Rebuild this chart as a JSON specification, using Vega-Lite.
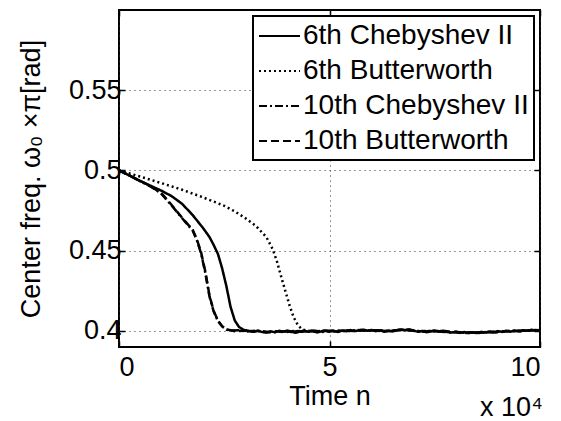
{
  "$schema": "https://vega.github.io/schema/vega-lite/v6.json",
  "width": 421,
  "height": 337,
  "autosize": "none",
  "padding": {"left": 119, "top": 10, "right": 21, "bottom": 74},
  "background": "white",
  "title": {"text": "x 10⁴", "orient": "bottom", "anchor": "end", "offset": -14, "font": "Liberation Sans", "fontSize": 27, "fontWeight": "normal", "color": "black"},
  "config": {
    "font": "Liberation Sans",
    "view": {"stroke": "black", "strokeWidth": 2},
    "axis": {"labelFont": "Liberation Sans", "titleFont": "Liberation Sans", "labelFontSize": 27, "titleFontSize": 27, "titleFontWeight": "normal", "labelColor": "black", "titleColor": "black", "domain": false, "tickColor": "black", "tickWidth": 1.5, "tickSize": -6, "grid": true, "gridColor": "#333333", "gridDash": [1, 4], "gridWidth": 1, "gridOpacity": 1},
    "legend": {"strokeWidth": 2}
  },
  "datasets": {
    "curves": [
      {"filter": "6th Chebyshev II", "n": 0.0, "w": 0.5000},
      {"filter": "6th Chebyshev II", "n": 0.25, "w": 0.4968},
      {"filter": "6th Chebyshev II", "n": 0.5, "w": 0.4935},
      {"filter": "6th Chebyshev II", "n": 0.75, "w": 0.4905},
      {"filter": "6th Chebyshev II", "n": 1.0, "w": 0.4875},
      {"filter": "6th Chebyshev II", "n": 1.25, "w": 0.4840},
      {"filter": "6th Chebyshev II", "n": 1.5, "w": 0.4792},
      {"filter": "6th Chebyshev II", "n": 1.75, "w": 0.4722},
      {"filter": "6th Chebyshev II", "n": 2.0, "w": 0.4640},
      {"filter": "6th Chebyshev II", "n": 2.15, "w": 0.4585},
      {"filter": "6th Chebyshev II", "n": 2.25, "w": 0.4535},
      {"filter": "6th Chebyshev II", "n": 2.35, "w": 0.4480},
      {"filter": "6th Chebyshev II", "n": 2.45, "w": 0.4390},
      {"filter": "6th Chebyshev II", "n": 2.55, "w": 0.4280},
      {"filter": "6th Chebyshev II", "n": 2.65, "w": 0.4150},
      {"filter": "6th Chebyshev II", "n": 2.75, "w": 0.4065},
      {"filter": "6th Chebyshev II", "n": 2.85, "w": 0.4025},
      {"filter": "6th Chebyshev II", "n": 2.95, "w": 0.4008},
      {"filter": "6th Chebyshev II", "n": 3.05, "w": 0.4002},
      {"filter": "6th Chebyshev II", "n": 3.1, "w": 0.4000},
      {"filter": "6th Chebyshev II", "n": 3.2, "w": 0.3995},
      {"filter": "6th Chebyshev II", "n": 3.3, "w": 0.4002},
      {"filter": "6th Chebyshev II", "n": 3.4, "w": 0.3993},
      {"filter": "6th Chebyshev II", "n": 3.5, "w": 0.3990},
      {"filter": "6th Chebyshev II", "n": 3.6, "w": 0.3998},
      {"filter": "6th Chebyshev II", "n": 3.7, "w": 0.3992},
      {"filter": "6th Chebyshev II", "n": 3.8, "w": 0.4001},
      {"filter": "6th Chebyshev II", "n": 3.9, "w": 0.3996},
      {"filter": "6th Chebyshev II", "n": 4.0, "w": 0.4003},
      {"filter": "6th Chebyshev II", "n": 4.1, "w": 0.3994},
      {"filter": "6th Chebyshev II", "n": 4.2, "w": 0.3989},
      {"filter": "6th Chebyshev II", "n": 4.3, "w": 0.3997},
      {"filter": "6th Chebyshev II", "n": 4.4, "w": 0.4002},
      {"filter": "6th Chebyshev II", "n": 4.5, "w": 0.3995},
      {"filter": "6th Chebyshev II", "n": 4.6, "w": 0.3999},
      {"filter": "6th Chebyshev II", "n": 4.7, "w": 0.3991},
      {"filter": "6th Chebyshev II", "n": 4.8, "w": 0.3997},
      {"filter": "6th Chebyshev II", "n": 4.9, "w": 0.4003},
      {"filter": "6th Chebyshev II", "n": 5.0, "w": 0.3996},
      {"filter": "6th Chebyshev II", "n": 5.1, "w": 0.4000},
      {"filter": "6th Chebyshev II", "n": 5.2, "w": 0.3994},
      {"filter": "6th Chebyshev II", "n": 5.3, "w": 0.4002},
      {"filter": "6th Chebyshev II", "n": 5.4, "w": 0.3998},
      {"filter": "6th Chebyshev II", "n": 5.5, "w": 0.4005},
      {"filter": "6th Chebyshev II", "n": 5.6, "w": 0.3999},
      {"filter": "6th Chebyshev II", "n": 5.7, "w": 0.4004},
      {"filter": "6th Chebyshev II", "n": 5.8, "w": 0.4008},
      {"filter": "6th Chebyshev II", "n": 5.9, "w": 0.4001},
      {"filter": "6th Chebyshev II", "n": 6.0, "w": 0.4006},
      {"filter": "6th Chebyshev II", "n": 6.1, "w": 0.3999},
      {"filter": "6th Chebyshev II", "n": 6.2, "w": 0.4003},
      {"filter": "6th Chebyshev II", "n": 6.3, "w": 0.3996},
      {"filter": "6th Chebyshev II", "n": 6.4, "w": 0.4001},
      {"filter": "6th Chebyshev II", "n": 6.5, "w": 0.3997},
      {"filter": "6th Chebyshev II", "n": 6.6, "w": 0.4004},
      {"filter": "6th Chebyshev II", "n": 6.7, "w": 0.4009},
      {"filter": "6th Chebyshev II", "n": 6.8, "w": 0.4005},
      {"filter": "6th Chebyshev II", "n": 6.9, "w": 0.4010},
      {"filter": "6th Chebyshev II", "n": 7.0, "w": 0.4002},
      {"filter": "6th Chebyshev II", "n": 7.1, "w": 0.3995},
      {"filter": "6th Chebyshev II", "n": 7.2, "w": 0.4000},
      {"filter": "6th Chebyshev II", "n": 7.3, "w": 0.3992},
      {"filter": "6th Chebyshev II", "n": 7.4, "w": 0.3997},
      {"filter": "6th Chebyshev II", "n": 7.5, "w": 0.4003},
      {"filter": "6th Chebyshev II", "n": 7.6, "w": 0.3998},
      {"filter": "6th Chebyshev II", "n": 7.7, "w": 0.4001},
      {"filter": "6th Chebyshev II", "n": 7.8, "w": 0.3994},
      {"filter": "6th Chebyshev II", "n": 7.9, "w": 0.3990},
      {"filter": "6th Chebyshev II", "n": 8.0, "w": 0.3996},
      {"filter": "6th Chebyshev II", "n": 8.1, "w": 0.3988},
      {"filter": "6th Chebyshev II", "n": 8.2, "w": 0.3993},
      {"filter": "6th Chebyshev II", "n": 8.3, "w": 0.3986},
      {"filter": "6th Chebyshev II", "n": 8.4, "w": 0.3991},
      {"filter": "6th Chebyshev II", "n": 8.5, "w": 0.3987},
      {"filter": "6th Chebyshev II", "n": 8.6, "w": 0.3994},
      {"filter": "6th Chebyshev II", "n": 8.7, "w": 0.3990},
      {"filter": "6th Chebyshev II", "n": 8.8, "w": 0.3997},
      {"filter": "6th Chebyshev II", "n": 8.9, "w": 0.3993},
      {"filter": "6th Chebyshev II", "n": 9.0, "w": 0.3999},
      {"filter": "6th Chebyshev II", "n": 9.1, "w": 0.3994},
      {"filter": "6th Chebyshev II", "n": 9.2, "w": 0.4001},
      {"filter": "6th Chebyshev II", "n": 9.3, "w": 0.3996},
      {"filter": "6th Chebyshev II", "n": 9.4, "w": 0.4003},
      {"filter": "6th Chebyshev II", "n": 9.5, "w": 0.3999},
      {"filter": "6th Chebyshev II", "n": 9.6, "w": 0.4005},
      {"filter": "6th Chebyshev II", "n": 9.7, "w": 0.4001},
      {"filter": "6th Chebyshev II", "n": 9.8, "w": 0.4007},
      {"filter": "6th Chebyshev II", "n": 9.9, "w": 0.4003},
      {"filter": "6th Chebyshev II", "n": 10.0, "w": 0.4006},

      {"filter": "6th Butterworth", "n": 0.0, "w": 0.5000},
      {"filter": "6th Butterworth", "n": 0.5, "w": 0.4962},
      {"filter": "6th Butterworth", "n": 1.0, "w": 0.4922},
      {"filter": "6th Butterworth", "n": 1.5, "w": 0.4880},
      {"filter": "6th Butterworth", "n": 2.0, "w": 0.4832},
      {"filter": "6th Butterworth", "n": 2.5, "w": 0.4780},
      {"filter": "6th Butterworth", "n": 2.75, "w": 0.4745},
      {"filter": "6th Butterworth", "n": 3.0, "w": 0.4703},
      {"filter": "6th Butterworth", "n": 3.25, "w": 0.4655},
      {"filter": "6th Butterworth", "n": 3.5, "w": 0.4585},
      {"filter": "6th Butterworth", "n": 3.65, "w": 0.4510},
      {"filter": "6th Butterworth", "n": 3.75, "w": 0.4435},
      {"filter": "6th Butterworth", "n": 3.85, "w": 0.4340},
      {"filter": "6th Butterworth", "n": 3.95, "w": 0.4250},
      {"filter": "6th Butterworth", "n": 4.05, "w": 0.4160},
      {"filter": "6th Butterworth", "n": 4.15, "w": 0.4085},
      {"filter": "6th Butterworth", "n": 4.25, "w": 0.4035},
      {"filter": "6th Butterworth", "n": 4.35, "w": 0.4010},
      {"filter": "6th Butterworth", "n": 4.45, "w": 0.4002},
      {"filter": "6th Butterworth", "n": 4.65, "w": 0.3996},
      {"filter": "6th Butterworth", "n": 4.85, "w": 0.4001},
      {"filter": "6th Butterworth", "n": 5.05, "w": 0.3995},
      {"filter": "6th Butterworth", "n": 5.25, "w": 0.4003},
      {"filter": "6th Butterworth", "n": 5.45, "w": 0.3999},
      {"filter": "6th Butterworth", "n": 5.65, "w": 0.4006},
      {"filter": "6th Butterworth", "n": 5.85, "w": 0.4002},
      {"filter": "6th Butterworth", "n": 6.05, "w": 0.4004},
      {"filter": "6th Butterworth", "n": 6.25, "w": 0.3998},
      {"filter": "6th Butterworth", "n": 6.45, "w": 0.4002},
      {"filter": "6th Butterworth", "n": 6.65, "w": 0.4007},
      {"filter": "6th Butterworth", "n": 6.85, "w": 0.4004},
      {"filter": "6th Butterworth", "n": 7.05, "w": 0.3999},
      {"filter": "6th Butterworth", "n": 7.25, "w": 0.3996},
      {"filter": "6th Butterworth", "n": 7.45, "w": 0.4001},
      {"filter": "6th Butterworth", "n": 7.65, "w": 0.3997},
      {"filter": "6th Butterworth", "n": 7.85, "w": 0.3993},
      {"filter": "6th Butterworth", "n": 8.05, "w": 0.3991},
      {"filter": "6th Butterworth", "n": 8.25, "w": 0.3988},
      {"filter": "6th Butterworth", "n": 8.45, "w": 0.3990},
      {"filter": "6th Butterworth", "n": 8.65, "w": 0.3992},
      {"filter": "6th Butterworth", "n": 8.85, "w": 0.3995},
      {"filter": "6th Butterworth", "n": 9.05, "w": 0.3997},
      {"filter": "6th Butterworth", "n": 9.25, "w": 0.3999},
      {"filter": "6th Butterworth", "n": 9.45, "w": 0.4001},
      {"filter": "6th Butterworth", "n": 9.65, "w": 0.4003},
      {"filter": "6th Butterworth", "n": 9.85, "w": 0.4005},
      {"filter": "6th Butterworth", "n": 10.0, "w": 0.4004},

      {"filter": "10th Chebyshev II", "n": 0.0, "w": 0.5000},
      {"filter": "10th Chebyshev II", "n": 0.25, "w": 0.4968},
      {"filter": "10th Chebyshev II", "n": 0.5, "w": 0.4934},
      {"filter": "10th Chebyshev II", "n": 0.75, "w": 0.4900},
      {"filter": "10th Chebyshev II", "n": 1.0, "w": 0.4857},
      {"filter": "10th Chebyshev II", "n": 1.25, "w": 0.4782},
      {"filter": "10th Chebyshev II", "n": 1.5, "w": 0.4702},
      {"filter": "10th Chebyshev II", "n": 1.75, "w": 0.4626},
      {"filter": "10th Chebyshev II", "n": 1.85, "w": 0.4565},
      {"filter": "10th Chebyshev II", "n": 1.95, "w": 0.4483},
      {"filter": "10th Chebyshev II", "n": 2.05, "w": 0.4362},
      {"filter": "10th Chebyshev II", "n": 2.15, "w": 0.4214},
      {"filter": "10th Chebyshev II", "n": 2.25, "w": 0.4120},
      {"filter": "10th Chebyshev II", "n": 2.35, "w": 0.4062},
      {"filter": "10th Chebyshev II", "n": 2.45, "w": 0.4028},
      {"filter": "10th Chebyshev II", "n": 2.55, "w": 0.4009},
      {"filter": "10th Chebyshev II", "n": 2.65, "w": 0.4003},
      {"filter": "10th Chebyshev II", "n": 2.85, "w": 0.4004},
      {"filter": "10th Chebyshev II", "n": 3.05, "w": 0.3997},
      {"filter": "10th Chebyshev II", "n": 3.25, "w": 0.4001},
      {"filter": "10th Chebyshev II", "n": 3.45, "w": 0.3994},
      {"filter": "10th Chebyshev II", "n": 3.65, "w": 0.3991},
      {"filter": "10th Chebyshev II", "n": 3.85, "w": 0.3998},
      {"filter": "10th Chebyshev II", "n": 4.05, "w": 0.3993},
      {"filter": "10th Chebyshev II", "n": 4.25, "w": 0.3999},
      {"filter": "10th Chebyshev II", "n": 4.45, "w": 0.3996},
      {"filter": "10th Chebyshev II", "n": 4.65, "w": 0.4001},
      {"filter": "10th Chebyshev II", "n": 4.85, "w": 0.3994},
      {"filter": "10th Chebyshev II", "n": 5.05, "w": 0.4002},
      {"filter": "10th Chebyshev II", "n": 5.25, "w": 0.3998},
      {"filter": "10th Chebyshev II", "n": 5.45, "w": 0.4003},
      {"filter": "10th Chebyshev II", "n": 5.65, "w": 0.4001},
      {"filter": "10th Chebyshev II", "n": 5.85, "w": 0.4005},
      {"filter": "10th Chebyshev II", "n": 6.05, "w": 0.4001},
      {"filter": "10th Chebyshev II", "n": 6.25, "w": 0.4004},
      {"filter": "10th Chebyshev II", "n": 6.45, "w": 0.3999},
      {"filter": "10th Chebyshev II", "n": 6.65, "w": 0.4006},
      {"filter": "10th Chebyshev II", "n": 6.85, "w": 0.4008},
      {"filter": "10th Chebyshev II", "n": 7.05, "w": 0.4000},
      {"filter": "10th Chebyshev II", "n": 7.25, "w": 0.3997},
      {"filter": "10th Chebyshev II", "n": 7.45, "w": 0.4000},
      {"filter": "10th Chebyshev II", "n": 7.65, "w": 0.3995},
      {"filter": "10th Chebyshev II", "n": 7.85, "w": 0.3992},
      {"filter": "10th Chebyshev II", "n": 8.05, "w": 0.3994},
      {"filter": "10th Chebyshev II", "n": 8.25, "w": 0.3987},
      {"filter": "10th Chebyshev II", "n": 8.45, "w": 0.3990},
      {"filter": "10th Chebyshev II", "n": 8.65, "w": 0.3993},
      {"filter": "10th Chebyshev II", "n": 8.85, "w": 0.3992},
      {"filter": "10th Chebyshev II", "n": 9.05, "w": 0.3996},
      {"filter": "10th Chebyshev II", "n": 9.25, "w": 0.3998},
      {"filter": "10th Chebyshev II", "n": 9.45, "w": 0.4001},
      {"filter": "10th Chebyshev II", "n": 9.65, "w": 0.4002},
      {"filter": "10th Chebyshev II", "n": 9.85, "w": 0.4006},
      {"filter": "10th Chebyshev II", "n": 10.0, "w": 0.4005},

      {"filter": "10th Butterworth", "n": 0.0, "w": 0.5000},
      {"filter": "10th Butterworth", "n": 0.25, "w": 0.4968},
      {"filter": "10th Butterworth", "n": 0.5, "w": 0.4935},
      {"filter": "10th Butterworth", "n": 0.75, "w": 0.4902},
      {"filter": "10th Butterworth", "n": 1.0, "w": 0.4860},
      {"filter": "10th Butterworth", "n": 1.25, "w": 0.4785},
      {"filter": "10th Butterworth", "n": 1.5, "w": 0.4705},
      {"filter": "10th Butterworth", "n": 1.75, "w": 0.4630},
      {"filter": "10th Butterworth", "n": 1.85, "w": 0.4570},
      {"filter": "10th Butterworth", "n": 1.95, "w": 0.4490},
      {"filter": "10th Butterworth", "n": 2.05, "w": 0.4370},
      {"filter": "10th Butterworth", "n": 2.15, "w": 0.4220},
      {"filter": "10th Butterworth", "n": 2.25, "w": 0.4125},
      {"filter": "10th Butterworth", "n": 2.35, "w": 0.4065},
      {"filter": "10th Butterworth", "n": 2.45, "w": 0.4030},
      {"filter": "10th Butterworth", "n": 2.55, "w": 0.4010},
      {"filter": "10th Butterworth", "n": 2.75, "w": 0.3998},
      {"filter": "10th Butterworth", "n": 2.95, "w": 0.4002},
      {"filter": "10th Butterworth", "n": 3.15, "w": 0.3996},
      {"filter": "10th Butterworth", "n": 3.35, "w": 0.4001},
      {"filter": "10th Butterworth", "n": 3.55, "w": 0.3993},
      {"filter": "10th Butterworth", "n": 3.75, "w": 0.3998},
      {"filter": "10th Butterworth", "n": 3.95, "w": 0.3992},
      {"filter": "10th Butterworth", "n": 4.15, "w": 0.3999},
      {"filter": "10th Butterworth", "n": 4.35, "w": 0.3995},
      {"filter": "10th Butterworth", "n": 4.55, "w": 0.4002},
      {"filter": "10th Butterworth", "n": 4.75, "w": 0.3996},
      {"filter": "10th Butterworth", "n": 4.95, "w": 0.4001},
      {"filter": "10th Butterworth", "n": 5.15, "w": 0.3997},
      {"filter": "10th Butterworth", "n": 5.35, "w": 0.4004},
      {"filter": "10th Butterworth", "n": 5.55, "w": 0.4000},
      {"filter": "10th Butterworth", "n": 5.75, "w": 0.4006},
      {"filter": "10th Butterworth", "n": 5.95, "w": 0.4002},
      {"filter": "10th Butterworth", "n": 6.15, "w": 0.4005},
      {"filter": "10th Butterworth", "n": 6.35, "w": 0.3998},
      {"filter": "10th Butterworth", "n": 6.55, "w": 0.4003},
      {"filter": "10th Butterworth", "n": 6.75, "w": 0.4008},
      {"filter": "10th Butterworth", "n": 6.95, "w": 0.4003},
      {"filter": "10th Butterworth", "n": 7.15, "w": 0.3998},
      {"filter": "10th Butterworth", "n": 7.35, "w": 0.4001},
      {"filter": "10th Butterworth", "n": 7.55, "w": 0.3996},
      {"filter": "10th Butterworth", "n": 7.75, "w": 0.3999},
      {"filter": "10th Butterworth", "n": 7.95, "w": 0.3992},
      {"filter": "10th Butterworth", "n": 8.15, "w": 0.3989},
      {"filter": "10th Butterworth", "n": 8.35, "w": 0.3992},
      {"filter": "10th Butterworth", "n": 8.55, "w": 0.3988},
      {"filter": "10th Butterworth", "n": 8.75, "w": 0.3995},
      {"filter": "10th Butterworth", "n": 8.95, "w": 0.3991},
      {"filter": "10th Butterworth", "n": 9.15, "w": 0.3998},
      {"filter": "10th Butterworth", "n": 9.35, "w": 0.4000},
      {"filter": "10th Butterworth", "n": 9.55, "w": 0.3997},
      {"filter": "10th Butterworth", "n": 9.75, "w": 0.4004},
      {"filter": "10th Butterworth", "n": 9.95, "w": 0.4002},
      {"filter": "10th Butterworth", "n": 10.0, "w": 0.4004}
    ]
  },
  "data": {"name": "curves"},
  "layer": [
    {
      "mark": {"type": "line", "color": "black", "strokeWidth": 2.5, "clip": true},
      "encoding": {
        "x": {"field": "n", "type": "quantitative", "scale": {"domain": [0, 10], "nice": false, "zero": false}, "axis": {"values": [0, 5, 10], "title": "Time n", "labelPadding": 13, "titlePadding": 3}},
        "y": {"field": "w", "type": "quantitative", "scale": {"domain": [0.39, 0.6], "nice": false, "zero": false}, "axis": {"values": [0.4, 0.45, 0.5, 0.55], "format": "~g", "title": "Center freq. ω₀ ×π[rad]", "labelPadding": 4, "titlePadding": 23}},
        "strokeDash": {"field": "filter", "type": "nominal", "sort": ["6th Chebyshev II", "6th Butterworth", "10th Chebyshev II", "10th Butterworth"],
          "scale": {"domain": ["6th Chebyshev II", "6th Butterworth", "10th Chebyshev II", "10th Butterworth"], "range": [[1, 0], [2, 3], [8, 3, 2, 3], [8, 4]]},
          "legend": {"title": null, "orient": "top-right", "offset": 6, "labelFontSize": 28, "labelFont": "Liberation Sans", "labelColor": "black", "labelLimit": 400, "labelOffset": 15, "symbolType": "M-1,0H1.93", "symbolSize": 784, "symbolStrokeWidth": 2, "symbolStrokeColor": "black", "symbolFillColor": "transparent", "rowPadding": 6, "padding": 5, "strokeColor": "black", "fillColor": "white"}
        },
        "detail": {"field": "filter", "type": "nominal"}
      }
    },
    {
      "mark": {"type": "point", "opacity": 0},
      "encoding": {
        "x": {"field": "n", "type": "quantitative", "axis": {"orient": "top", "values": [0, 5, 10], "labels": false, "title": null, "grid": false}},
        "y": {"field": "w", "type": "quantitative", "axis": {"orient": "right", "values": [0.4, 0.45, 0.5, 0.55], "labels": false, "title": null, "grid": false}}
      }
    }
  ],
  "resolve": {"axis": {"x": "independent", "y": "independent"}}
}
